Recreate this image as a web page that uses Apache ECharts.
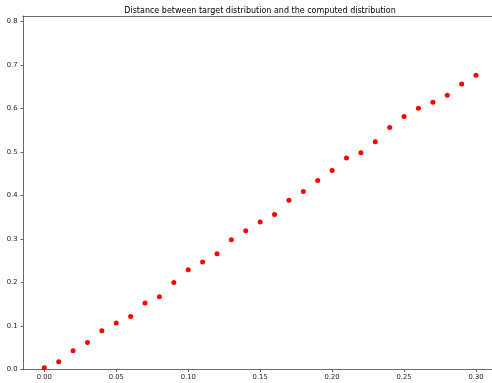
<!DOCTYPE html>
<html>
<head>
<meta charset="utf-8">
<script src="https://cdn.jsdelivr.net/npm/echarts@6/dist/echarts.min.js"></script>
<style>html,body{margin:0;padding:0;background:#fff}#c{width:492px;height:383px}</style>
</head>
<body>
<div id="c"></div>
<script>
const titleText = "Distance between target distribution and the computed distribution";
const xValues = [0.00,0.01,0.02,0.03,0.04,0.05,0.06,0.07,0.08,0.09,0.10,0.11,0.12,0.13,0.14,0.15,0.16,0.17,0.18,0.19,0.20,0.21,0.22,0.23,0.24,0.25,0.26,0.27,0.28,0.29,0.30];
const yValues = [0.004,0.018,0.043,0.062,0.089,0.107,0.122,0.153,0.167,0.200,0.229,0.247,0.266,0.298,0.319,0.339,0.356,0.389,0.409,0.434,0.457,0.486,0.498,0.523,0.556,0.581,0.600,0.614,0.630,0.656,0.676];
const xTicks = [0,0.05,0.10,0.15,0.20,0.25,0.30];
const yTicks = [0,0.1,0.2,0.3,0.4,0.5,0.6,0.7,0.8];

const chart = echarts.init(document.getElementById('c'), null, {renderer:'canvas'});
const font = 'DejaVu Sans';
const lineStyle = {color:'#444',width:0.8};
chart.setOption({
  animation:false,
  backgroundColor:'#fff',
  title:{text:titleText,left:255,top:2,textAlign:'center',
    textStyle:{fontSize:8,fontWeight:'normal',color:'#000',fontFamily:font}},
  grid:{left:23,right:0,top:16,bottom:13.5,show:false},
  xAxis:[{type:'value',min:-0.0148,max:0.3111,
    axisLine:{show:true,onZero:false,lineStyle:lineStyle},
    axisTick:{show:true,length:2.5,customValues:xTicks,lineStyle:lineStyle},
    axisLabel:{customValues:xTicks,margin:4.5,fontSize:6.8,color:'#222',fontFamily:font,
      formatter:v=>v.toFixed(2)},
    splitLine:{show:false}},
    {type:'value',position:'top',min:-0.0148,max:0.3111,
    axisLine:{show:true,onZero:false,lineStyle:lineStyle},
    axisTick:{show:false},axisLabel:{show:false},splitLine:{show:false}}],
  yAxis:{type:'value',min:0,max:0.812,
    axisLine:{show:true,onZero:false,lineStyle:lineStyle},
    axisTick:{show:true,length:2.5,customValues:yTicks,lineStyle:lineStyle},
    axisLabel:{customValues:yTicks,margin:5.5,fontSize:6.8,color:'#222',fontFamily:font,
      formatter:v=>v.toFixed(1)},
    splitLine:{show:false}},
  series:[{type:'scatter',xAxisIndex:0,data:xValues.map((x,i)=>[x,yValues[i]]),symbolSize:5,
    itemStyle:{color:'#ff0000',opacity:1}}]
});
</script>
</body>
</html>
